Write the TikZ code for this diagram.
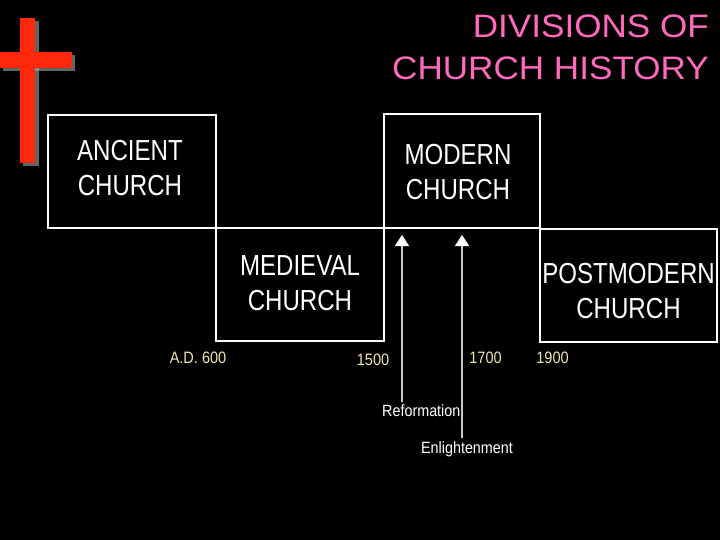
\documentclass[tikz,border=0pt]{standalone}
\usepackage{fontspec}
\setmainfont{Liberation Sans}
\newfontfamily\erafont[FakeStretch=0.83]{Liberation Sans}
\newfontfamily\smallfont[FakeStretch=0.88]{Liberation Sans}
\newfontfamily\titlefont[FakeStretch=1.08]{Liberation Sans}
\usetikzlibrary{arrows.meta}
\definecolor{crossred}{RGB}{255,40,10}
\definecolor{titlepink}{RGB}{255,105,190}
\definecolor{dateyellow}{RGB}{238,232,170}
\definecolor{arrowgray}{RGB}{200,200,200}
\begin{document}
\begin{tikzpicture}[x=1pt,y=-1pt,
  erabox/.style={draw=white,line width=2pt,inner sep=0pt},
  eratext/.style={text=white,align=center,inner sep=0pt,anchor=north,
    font=\erafont\fontsize{29}{35}\selectfont},
  datelbl/.style={text=dateyellow,anchor=base,font=\smallfont\fontsize{16.5}{18}\selectfont,inner sep=0pt},
  eventlbl/.style={text=white,anchor=base,font=\smallfont\fontsize{16.3}{18}\selectfont,inner sep=0pt},
  eventarrow/.style={draw=arrowgray,line width=1.5pt,
    -{Triangle[width=14pt,length=11pt,color=white]}},
  titletext/.style={align=right,anchor=north east,inner sep=0pt,
    font=\titlefont\fontsize{32.5}{42}\selectfont}]
\fill[black] (0,0) rectangle (720,540);
\useasboundingbox (0,0) rectangle (720,540);
% cross with shadow
\fill[gray!70,opacity=0.6] (23,21) rectangle (39,166);
\fill[gray!70,opacity=0.6] (3,55) rectangle (75,71);
\fill[crossred] (20,18) rectangle (35,163);
\fill[crossred] (0,52) rectangle (72,68);
% title
\node[titletext,text=titlepink] (title) at (709,15) {DIVISIONS OF\\CHURCH HISTORY};
% era boxes
\node[erabox,minimum width=168pt,minimum height=113pt] (ancient) at (132,171.5) {};
\node[erabox,minimum width=168pt,minimum height=113pt] (medieval) at (300,284.5) {};
\node[erabox,minimum width=156pt,minimum height=114pt] (modern) at (462,171) {};
\node[erabox,minimum width=177pt,minimum height=113pt] (postmodern) at (628.5,285.5) {};
\node[eratext] (ancienttext) at (130,140) {ANCIENT\\CHURCH};
\node[eratext] (medievaltext) at (300,255.5) {MEDIEVAL\\CHURCH};
\node[eratext] (moderntext) at (458,144.5) {MODERN\\CHURCH};
\node[eratext] (postmoderntext) at (628.5,263.3) {POSTMODERN\\CHURCH};
% dates
\node[datelbl] (d600) at (198,363.3) {A.D. 600};
\node[datelbl] (d1500) at (373,365) {1500};
\node[datelbl] (d1700) at (485.5,363.3) {1700};
\node[datelbl] (d1900) at (552.5,363.3) {1900};
% events
\node[eventlbl] (reform) at (421.3,416.7) {Reformation};
\node[eventlbl] (enlight) at (467,453.3) {Enlightenment};
\coordinate (reformfoot) at (402,402);
\coordinate (reformtip) at (402,235);
\coordinate (enlightfoot) at (462,438);
\coordinate (enlighttip) at (462,235);
\draw[eventarrow] (reformfoot) -- (reformtip);
\draw[eventarrow] (enlightfoot) -- (enlighttip);
\end{tikzpicture}
\end{document}
